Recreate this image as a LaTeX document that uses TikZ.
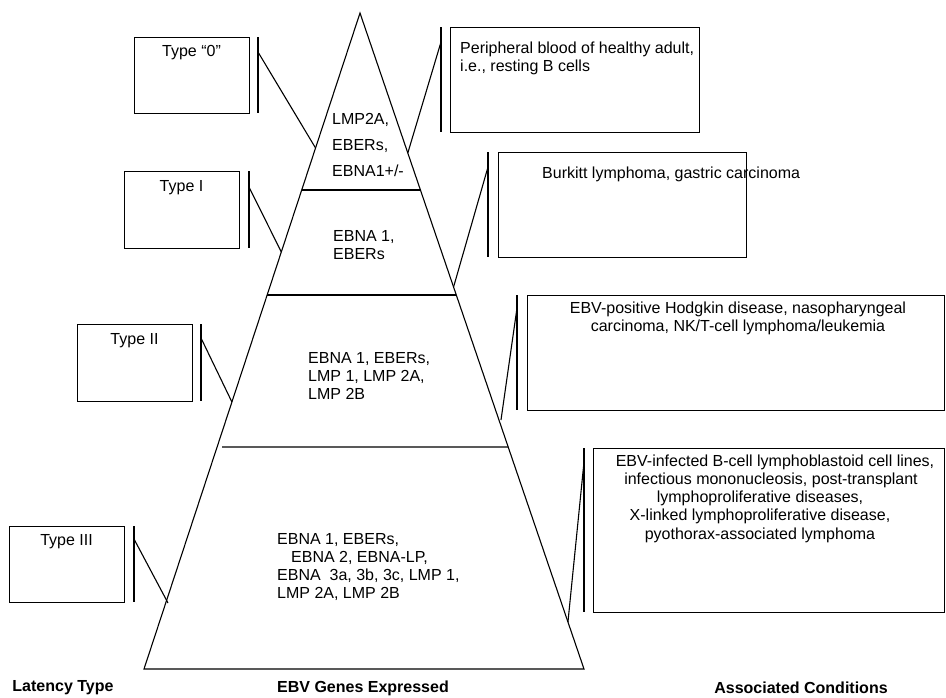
\documentclass[tikz,border=0pt]{standalone}
\usepackage{fontspec}
\setmainfont{Liberation Sans}
\usetikzlibrary{calc}
\begin{document}
\begin{tikzpicture}[x=1pt,y=-1pt,
  ln/.style={line width=1.1pt},
  frame/.style={draw, line width=1.2pt, anchor=north west, inner sep=0pt},
  txt/.style={font=\fontsize{16}{18.3}\selectfont, inner sep=0pt},
  head/.style={font=\fontsize{16}{18}\selectfont\bfseries, inner sep=0pt}]
\useasboundingbox (0,0) rectangle (946,697);

% ---- pyramid -------------------------------------------------------
\coordinate (apex) at (360,13);
\coordinate (bl) at (144,669);
\coordinate (br) at (584,669);
\draw[ln] (apex) -- (bl) -- (br) -- cycle;

\coordinate (s1l) at ($(apex)!0.26982!(bl)$);
\coordinate (s1r) at ($(apex)!0.26982!(br)$);
\coordinate (s2l) at ($(apex)!0.42988!(bl)$);
\coordinate (s2r) at ($(apex)!0.42988!(br)$);
\coordinate (s3l) at (222,447);
\coordinate (s3r) at ($(apex)!0.66159!(br)$);
\draw[ln] (s1l) -- (s1r);
\draw[ln] (s2l) -- (s2r);
\draw[ln] (s3l) -- (s3r);

% genes expressed in each tier
\node[txt, align=left, anchor=west, font=\fontsize{16}{26}\selectfont] (g0) at (332,145)
  {LMP2A,\\EBERs,\\EBNA1+/-};
\node[txt, align=left, anchor=west] (g1) at (333,245)
  {EBNA 1,\\EBERs};
\node[txt, align=left, anchor=west] (g2) at (308,376)
  {EBNA 1, EBERs,\\LMP 1, LMP 2A,\\LMP 2B};
\node[txt, align=left, anchor=west] (g3) at (277,567)
  {EBNA 1, EBERs,\\\hspace*{14pt}EBNA 2, EBNA-LP,\\EBNA~~3a, 3b, 3c, LMP 1,\\LMP 2A, LMP 2B};

% ---- latency types (left) -----------------------------------------
\node[frame, minimum width=115pt, minimum height=76pt] (t0) at (134,37) {};
\node[frame, minimum width=115pt, minimum height=77pt] (t1) at (124,171) {};
\node[frame, minimum width=115pt, minimum height=77pt] (t2) at (77,324) {};
\node[frame, minimum width=115pt, minimum height=76pt] (t3) at (9,526) {};
\node[txt] (t0l) at (191.5,53) {Type “0”};
\node[txt] (t1l) at (181.5,188) {Type I};
\node[txt] (t2l) at (134.5,341) {Type II};
\node[txt] (t3l) at (66.5,542) {Type III};

\draw[ln] (258,37) coordinate (b0t) -- (258,113) coordinate (b0b);
\draw[ln] (249,171) coordinate (b1t) -- (249,248) coordinate (b1b);
\draw[ln] (201,324) coordinate (b2t) -- (201,401) coordinate (b2b);
\draw[ln] (134,526) coordinate (b3t) -- (134,602) coordinate (b3b);

\coordinate (c0) at (258,52);
\coordinate (c1) at (249,187);
\coordinate (c2) at (201,338);
\coordinate (c3) at (134,539);
\coordinate (e0) at ($(apex)!0.20579!(bl)$);
\coordinate (e1) at ($(apex)!0.36433!(bl)$);
\coordinate (e2) at ($(apex)!0.59299!(bl)$);
\coordinate (e3) at (168,603);
\draw[ln] (c0) -- (e0);
\draw[ln] (c1) -- (e1);
\draw[ln] (c2) -- (e2);
\draw[ln] (c3) -- (e3);

% ---- associated conditions (right) --------------------------------
\node[frame, minimum width=249pt, minimum height=105pt] (r0) at (450,27) {};
\node[frame, minimum width=248pt, minimum height=105pt] (r1) at (498,152) {};
\node[frame, minimum width=417pt, minimum height=115pt] (r2) at (527,295) {};
\node[frame, minimum width=351pt, minimum height=164pt] (r3) at (593,448) {};

\node[txt, align=left, anchor=west] (r0t) at (460,58.5)
  {Peripheral blood of healthy adult,\\i.e., resting B cells};
\node[txt, anchor=west] (r1t) at (542,174)
  {Burkitt lymphoma, gastric carcinoma};
\node[txt, align=center] (r2t) at (738,318.5)
  {EBV-positive Hodgkin disease, nasopharyngeal\\carcinoma, NK/T-cell lymphoma/leukemia};
\node[txt, align=center] (r3t) at (760,498.5)
  {\hspace*{30pt}EBV-infected B-cell lymphoblastoid cell lines,\\
   \hspace*{22pt}infectious mononucleosis, post-transplant\\
   lymphoproliferative diseases,\\
   X-linked lymphoproliferative disease,\\
   pyothorax-associated lymphoma};

\draw[ln] (441,27) coordinate (d0t) -- (441,132) coordinate (d0b);
\draw[ln] (488,152) coordinate (d1t) -- (488,257) coordinate (d1b);
\draw[ln] (517,295) coordinate (d2t) -- (517,410) coordinate (d2b);
\draw[ln] (584,448) coordinate (d3t) -- (584,612) coordinate (d3b);

\coordinate (k0) at (441,42);
\coordinate (k1) at (488,167);
\coordinate (k2) at (517,308);
\coordinate (k3) at (584,462);
\coordinate (f0) at ($(apex)!0.21341!(br)$);
\coordinate (f1) at ($(apex)!0.41768!(br)$);
\coordinate (f2) at (501,420);
\coordinate (f3) at ($(apex)!0.92835!(br)$);
\draw[ln] (k0) -- (f0);
\draw[ln] (k1) -- (f1);
\draw[ln] (k2) -- (f2);
\draw[ln] (k3) -- (f3);

% ---- column headings ----------------------------------------------
\node[head] (h1) at (63,688) {Latency Type};
\node[head] (h2) at (363,688) {EBV Genes Expressed};
\node[head] (h3) at (801,688) {Associated Conditions};
\end{tikzpicture}
\end{document}
